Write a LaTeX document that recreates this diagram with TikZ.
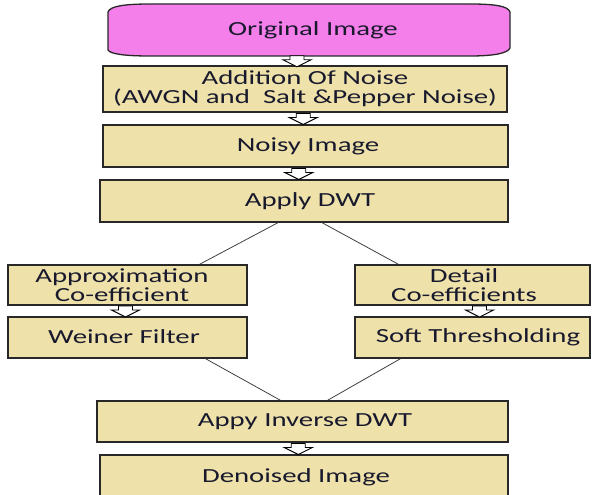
\documentclass[tikz,border=0pt]{standalone}
\usepackage{fontspec}
\setmainfont{Carlito}[FakeStretch=1.44]
\usetikzlibrary{calc}
\definecolor{beige}{RGB}{238,226,170}
\definecolor{pinkfill}{RGB}{245,127,234}
\definecolor{txtcol}{RGB}{25,25,45}
\definecolor{edge}{RGB}{40,40,40}
\begin{document}
\begin{tikzpicture}[x=1pt,y=-1pt,
  box/.style={draw=edge,line width=1.3pt,fill=beige,inner sep=0pt,
    text=txtcol,align=center,font=\fontsize{20}{19}\selectfont},
  txt/.style={inner sep=0pt,text=txtcol,align=center,font=\fontsize{20}{19}\selectfont},
  conn/.style={draw=black!75,line width=0.8pt},
  arrowst/.style={draw=black,line width=0.9pt,fill=white,line join=miter},
  darrow/.pic={\path[arrowst] (-7,-5) -- (-7,-1) -- (-14,-1) -- (0,6) -- (14,-1) -- (7,-1) -- (7,-5) -- cycle;}
]
\useasboundingbox (0,0) rectangle (592,495);
\clip (0,0) rectangle (592,495);
% original image shape
\path[draw=edge,line width=1.3pt,fill=pinkfill]
  (108,12) .. controls (110,6) and (125,4) .. (150,4) -- (470,4)
  .. controls (495,4) and (508,6) .. (510,12) -- (510,48)
  .. controls (508,53) and (495,56) .. (470,56) -- (150,56)
  .. controls (125,56) and (110,54) .. (108,50) -- cycle;
\node[txt,minimum width=402pt,minimum height=52pt] (orig) at (309,30) {};
\node[txt] (origt) at (313,30) {Original Image};

\node[box,minimum width=404pt,minimum height=46pt] (add) at (305,89)
  {Addition Of Noise\\(AWGN and\ \ Salt \&Pepper Noise)};
\node[box,minimum width=405pt,minimum height=42pt] (noisy) at (305.5,146) {};
\node[txt] (noisyt) at (308,146) {Noisy Image};
\node[box,minimum width=408pt,minimum height=42pt] (dwt) at (304,201) {};
\node[txt] (dwtt) at (310,201) {Apply DWT};

\node[box,minimum width=239pt,minimum height=40pt] (approx) at (127.5,285) {};
\node[txt] (approxt) at (122,285) {Approximation\\Co-efficient};
\node[box,minimum width=239pt,minimum height=41pt] (weiner) at (127.5,337.5) {};
\node[txt] (weinert) at (124,337) {Weiner Filter};

\node[box,minimum width=235pt,minimum height=40pt] (detail) at (472.5,285) {};
\node[txt] (detailt) at (464,285) {Detail\\Co-efficients};
\node[box,minimum width=235pt,minimum height=41pt] (soft) at (472.5,337.5) {};
\node[txt] (softt) at (478,337) {Soft Thresholding};

\node[box,minimum width=411pt,minimum height=41pt] (inv) at (302.5,421.5) {};
\node[txt] (invt) at (305,422) {Appy Inverse DWT};
\node[box,minimum width=408pt,minimum height=50pt] (den) at (304,480) {};
\node[txt] (dent) at (296,477) {Denoised Image};

% block arrows
\pic at ($(orig.south)!0.5!(add.north)+(-10,0)$) {darrow};
\pic at ($(add.south)!0.5!(noisy.north)+(-2,0)$) {darrow};
\pic at ($(noisy.south)!0.5!(dwt.north)+(-6,0)$) {darrow};
\pic at ($(approx.south)!0.5!(weiner.north)+(-2,0)$) {darrow};
\pic at ($(detail.south)!0.5!(soft.north)+(7,0)$) {darrow};
\pic at ($(inv.south)!0.5!(den.north)+(-5,0)$) {darrow};

% connectors
\draw[conn] ($(dwt.south)+(-26,0)$) -- ($(approx.north)+(72,0)$);
\draw[conn] ($(dwt.south)+(18,0)$) -- ($(detail.north)+(-74,0)$);
\draw[conn] ($(weiner.south)+(78,0)$) -- ($(inv.north)+(-22,0)$);
\draw[conn] ($(soft.south)+(-72,0)$) -- ($(inv.north)+(25,0)$);
\end{tikzpicture}
\end{document}
